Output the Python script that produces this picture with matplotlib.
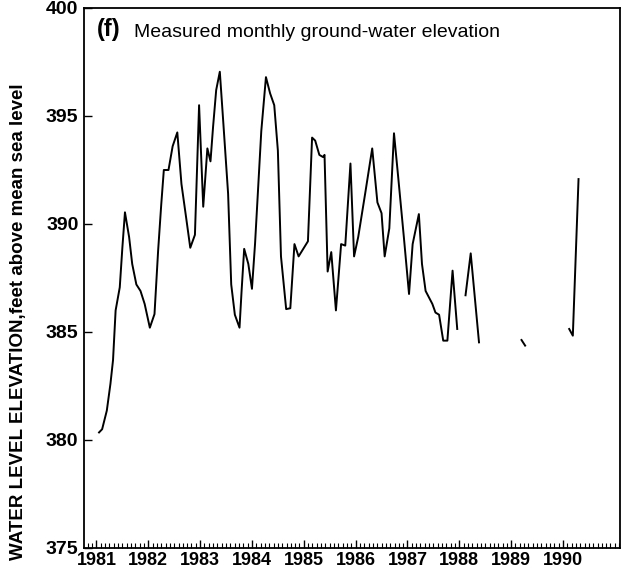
import numpy as np
import matplotlib
matplotlib.use("Agg")
import matplotlib.pyplot as plt
from matplotlib.ticker import MultipleLocator

plt.rcParams['font.family'] = ['Liberation Sans', 'DejaVu Sans']

# --- measured ground-water elevation (decimal year, feet above msl) ---
# nan marks gaps in the record
years = [
    1981.05, 1981.11, 1981.20, 1981.27, 1981.32, 1981.37, 1981.45, 1981.50,
    1981.55, 1981.63, 1981.69, 1981.77, 1981.85, 1981.93, 1982.03, 1982.12,
    1982.19, 1982.25, 1982.30, 1982.39, 1982.47, 1982.56, 1982.64, 1982.73,
    1982.81, 1982.90, 1982.98, 1983.06, 1983.14, 1983.20, 1983.25, 1983.31,
    1983.38, 1983.45, 1983.54, 1983.60, 1983.67, 1983.76, 1983.80, 1983.85,
    1983.93, 1984.00, 1984.06, 1984.18, 1984.27, 1984.35, 1984.43, 1984.50,
    1984.56, 1984.66, 1984.74, 1984.82, 1984.90, 1985.08, 1985.16, 1985.22,
    1985.30, 1985.37, 1985.40, 1985.46, 1985.53, 1985.62, 1985.72, 1985.80,
    1985.90, 1985.97, 1986.05, 1986.19, 1986.32, 1986.42, 1986.50, 1986.56,
    1986.65, 1986.74, 1986.82, 1986.93, 1987.03, 1987.10, 1987.22, 1987.28,
    1987.35, 1987.48, 1987.54, 1987.61, 1987.69, 1987.77, 1987.87, 1987.96,
    1988.04,
    1988.12, 1988.22, 1988.38,
    1988.80,
    1989.20, 1989.27,
    1989.70,
    1990.12, 1990.19, 1990.30,
]
elevation = [
    380.35, 380.5, 381.36, 382.6, 383.7, 386.0, 387.07, 388.9,
    390.54, 389.4, 388.15, 387.2, 386.9, 386.3, 385.2, 385.83,
    388.77, 390.9, 392.5, 392.5, 393.6, 394.24, 391.85, 390.3,
    388.9, 389.5, 395.5, 390.8, 393.5, 392.9, 394.5, 396.2,
    397.05, 394.6, 391.4, 387.2, 385.8, 385.2, 386.9, 388.85,
    388.15, 387.0, 389.1, 394.3, 396.8, 396.05, 395.5, 393.4,
    388.5, 386.06, 386.1, 389.07, 388.5, 389.2, 394.0, 393.86,
    393.2, 393.1, 393.2, 387.8, 388.7, 386.0, 389.07, 389.0,
    392.8, 388.5, 389.4, 391.5, 393.5, 391.0, 390.5, 388.5,
    389.8, 394.2, 392.2, 389.4, 386.76, 389.07, 390.46, 388.15,
    386.9, 386.3, 385.9, 385.8, 384.6, 384.6, 387.84, 385.14,
    np.nan,
    386.7, 388.64, 384.52,
    np.nan,
    384.63, 384.37,
    np.nan,
    385.14, 384.83, 392.08,
]
year_ticks = list(range(1981, 1991))
elev_ticks = [375, 380, 385, 390, 395, 400]

fig = plt.figure(figsize=(6.22, 5.76), dpi=100)
ax = fig.add_axes([84 / 622, 1 - 548 / 576, 536 / 622, 540 / 576])

ax.plot(years, elevation, color='black', lw=1.4)

ax.set_xlim(1980.76, 1991.1)
ax.set_ylim(375, 400)
ax.set_xticks(year_ticks)
ax.set_xticklabels([str(y) for y in year_ticks], fontsize=13, fontweight='bold')
ax.xaxis.set_minor_locator(MultipleLocator(1 / 12))
ax.set_yticks(elev_ticks)
ax.set_yticklabels([str(v) for v in elev_ticks], fontsize=14, fontweight='bold')

ax.tick_params(axis='x', which='major', direction='in', length=6, width=1, pad=3)
ax.tick_params(axis='x', which='minor', direction='in', length=3.5, width=0.8)
ax.tick_params(axis='y', which='major', direction='in', length=6, width=1, pad=4)
for s in ax.spines.values():
    s.set_linewidth(1.3)

ax.set_ylabel('WATER LEVEL ELEVATION,feet above mean sea level',
              fontsize=13.5, fontweight='bold')
ax.yaxis.set_label_coords(-0.107, 0.42)

ax.text(0.024, 0.982, '(f)', transform=ax.transAxes, fontsize=17,
        fontweight='bold', va='top', ha='left')
ax.text(0.093, 0.970, 'Measured monthly ground-water elevation',
        transform=ax.transAxes, fontsize=14, va='top', ha='left')

fig.savefig('out.png', dpi=100)
